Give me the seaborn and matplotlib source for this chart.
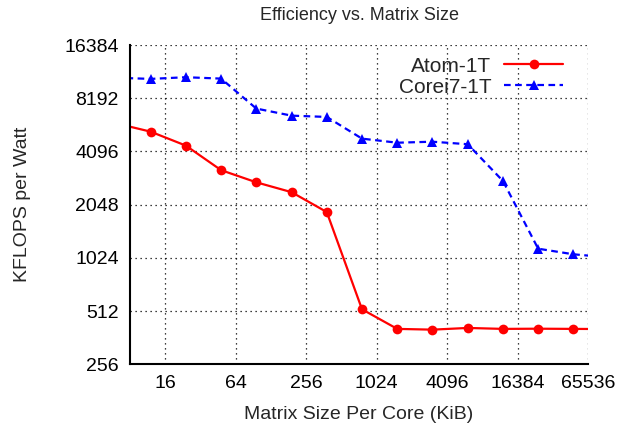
import numpy as np
import pandas as pd
import matplotlib
matplotlib.use("Agg")
import matplotlib.pyplot as plt
import seaborn as sns
from matplotlib.ticker import FixedLocator, NullFormatter

# matrix size per core (KiB); first/last points lie outside the visible range
sizes = [6, 12, 24, 48, 96, 192, 384, 768, 1536, 3072, 6144, 12288, 24576, 49152, 98304]
atom_1t = [5920, 5300, 4420, 3210, 2740, 2410, 1860, 524, 406, 402, 411, 406, 407, 406, 405]
corei7_1t = [10700, 10540, 10770, 10580, 7160, 6530, 6420, 4840, 4590, 4650, 4500, 2790, 1154, 1073, 1030]

x_major = [16, 64, 256, 1024, 4096, 16384, 65536]
x_minor = [32, 128, 512, 2048, 8192, 32768]
y_ticks = [256, 512, 1024, 2048, 4096, 8192, 16384]

df = pd.DataFrame({
    "size": sizes * 2,
    "kflops": atom_1t + corei7_1t,
    "series": ["Atom-1T"] * len(sizes) + ["Corei7-1T"] * len(sizes),
})

sns.set_style("white")
plt.rcParams["font.family"] = ["Liberation Sans", "DejaVu Sans"]

fig = plt.figure(figsize=(6.2, 4.3), dpi=100)
ax = fig.add_axes([0.2097, 0.1528, 0.7387, 0.7425])

sns.lineplot(data=df[df.series == "Atom-1T"], x="size", y="kflops", ax=ax,
             color="#ff0000", marker="o", markersize=7, markeredgewidth=0,
             linewidth=1.6, label="Atom-1T")
sns.lineplot(data=df[df.series == "Corei7-1T"], x="size", y="kflops", ax=ax,
             color="#0000ff", marker="^", markersize=7, markeredgewidth=0,
             linewidth=1.6, linestyle=(0, (3.0, 2.0)), label="Corei7-1T")

ax.set_xscale("log", base=2)
ax.set_yscale("log", base=2)
ax.set_xlim(8, 65536)
ax.set_ylim(256, 16384)

ax.xaxis.set_major_locator(FixedLocator(x_major))
ax.xaxis.set_minor_locator(FixedLocator(x_minor))
ax.xaxis.set_minor_formatter(NullFormatter())
ax.set_xticklabels([str(v) for v in x_major])
ax.yaxis.set_major_locator(FixedLocator(y_ticks))
ax.yaxis.set_minor_locator(FixedLocator([]))
ax.set_yticklabels([str(v) for v in y_ticks])

ax.tick_params(axis="both", which="major", direction="in", length=7, width=1.2,
               labelsize=14, colors="black", pad=8)
ax.tick_params(axis="x", which="minor", direction="in", length=4, width=1.2)

ax.grid(True, which="major", color="black", linestyle=(0, (1, 3)), linewidth=0.9)
for side in ["top", "right"]:
    ax.spines[side].set_visible(False)
for side in ["left", "bottom"]:
    ax.spines[side].set_color("black")
    ax.spines[side].set_linewidth(1.5)

ax.set_xlabel("Matrix Size Per Core (KiB)", fontsize=14, labelpad=10)
ax.set_ylabel("KFLOPS per Watt", fontsize=14, labelpad=24)
ax.set_title("Efficiency vs. Matrix Size", fontsize=13, pad=18)

leg = ax.legend(loc="upper right", bbox_to_anchor=(1 - 10 / 458, 1 + 3 / 318),
                frameon=False, fontsize=15, markerfirst=False,
                handlelength=2.85, borderaxespad=0.3, labelspacing=0.1,
                handletextpad=0.6)

fig.savefig("out.png", dpi=100)
